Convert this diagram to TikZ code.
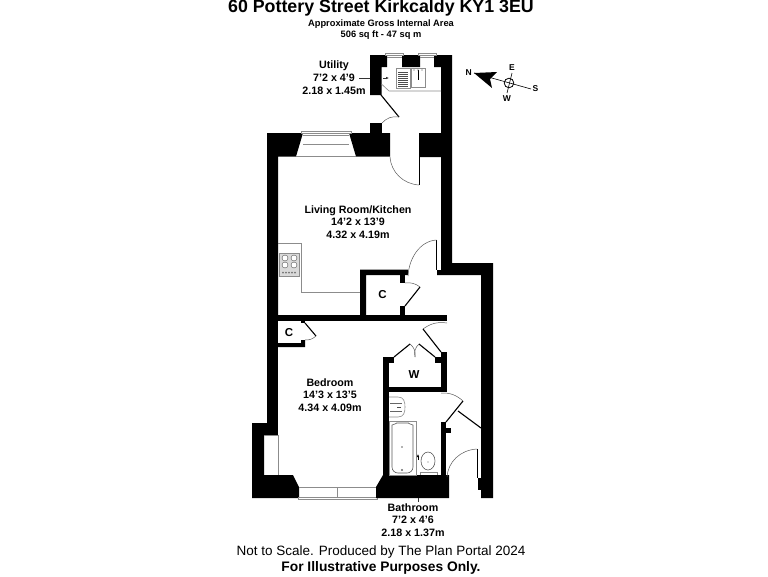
\documentclass[tikz,border=0pt]{standalone}
\usepackage{fontspec}
\setmainfont{Liberation Sans}
\usetikzlibrary{arrows.meta, positioning}
\tikzset{
	wall/.style = {fill=black, draw=none},
	leaf/.style = {draw=black, line width=1.1pt},
	swing/.style = {draw=black!65, line width=0.5pt},
	fitting/.style = {draw=black!45, line width=0.6pt},
	sill/.style = {draw=black!45, fill=white, line width=0.6pt},
	room/.style = {align=center, font=\bfseries\fontsize{10.7}{12.7}\selectfont, inner sep=0pt},
	closet/.style = {font=\bfseries\fontsize{11.5}{13}\selectfont, inner sep=0pt},
	point/.style = {font=\bfseries\fontsize{8.5}{10}\selectfont, inner sep=0pt},
}
\begin{document}
\begin{tikzpicture}[x=1pt, y=-1pt]
	\useasboundingbox (0,0) rectangle (768,576);

	% headings
	\node[inner sep=0pt, font=\bfseries\fontsize{17.8}{19}\selectfont] (title) at (381,8) {60 Pottery Street Kirkcaldy KY1 3EU};
	\node[inner sep=0pt, align=center, font=\bfseries\fontsize{9.3}{11}\selectfont] (area) at (381,29.5) {Approximate Gross Internal Area\\506 sq ft - 47 sq m};

	% utility
	\fill[wall] (370,55) -- (452,55) -- (452,263) -- (441,263) -- (441,157) -- (419,157) -- (419,133) -- (441,133) -- (441,67) -- (434,67) -- (434,55) -- (420,55) -- (420,67) -- (402,67) -- (402,55) -- (387,55) -- (387,67) -- (381.5,67) -- (381.5,95) -- (370,95) -- cycle;
	\foreach \wl/\wr in {385/403, 418/436} {
		\draw[sill] (\wl,53) rectangle (\wr,55);
	}
	\draw[fitting] (387,57) -- (402,57) (420,57) -- (434,57);
	\draw[fitting] (381.5,84) -- (389,91) -- (441,91);
	\draw[fitting, fill=white] (396,68) rectangle (410,88);
	\draw[fitting, fill=white] (411,68) rectangle (425,87);
	\foreach \ys in {72,74,...,86} {
		\draw[draw=black!70, line width=0.8pt] (398,\ys) -- (408,\ys);
	}
	\draw[black, line width=0.5pt] (418,70) -- (418,80);
	\foreach \xs in {414,418,422} {
		\fill[black!70] (\xs,70) circle (0.7);
	}
	\coordinate (utilityend) at (370,78);
	\draw[black!80, line width=0.5pt] (359,78) -- (utilityend);
	\draw[black!80, line width=0.5pt, -{Latex[length=3pt,width=2.5pt]}] (383,78) -- (389,78);

	\coordinate (utilA) at (381,95);
	\coordinate (utilB) at (399,117);
	\draw[leaf] (utilA) -- (utilB);
	\draw[swing] (utilB) to[bend right=28] (382,123);
	\fill[wall] (370,123) rectangle (381.5,133);

	% living room
	\fill[wall] (267,133) -- (303,133) -- (296,156.5) -- (278,156.5) -- (278,315) -- (267,315) -- cycle;
	\fill[wall] (349,133) -- (390,133) -- (390,156.5) -- (356,156.5) -- cycle;
	\draw[sill] (301,131) rectangle (351,133);
	\draw[fitting] (303,135) -- (349,135) (303,144) -- (349,144) (296,156.5) -- (356,156.5);
	\draw[swing] (390,157) .. controls (391,172) and (403,184) .. (419,185);
	\draw[leaf, line width=0.8pt] (419,157) -- (419,185);

	% kitchen units
	\draw[fitting] (278,243) -- (301,243) -- (301,292) -- (360,292);
	\draw[fitting, fill=black!15] (279.5,253) rectangle (299,276);
	\foreach \hx in {285,294} {
		\foreach \hy in {258,265} {
			\draw[black!70, line width=0.4pt, fill=white] (\hx,\hy) circle (3);
		}
	}
	\foreach \kx in {283,286,...,295} {
		\fill[black!55] (\kx,272.5) circle (1);
	}

	% closet of the living room
	\fill[wall] (360,269.5) -- (408,269.5) -- (408,275) -- (366,275) -- (366,315) -- (360,315) -- cycle;
	\fill[wall] (400,275) rectangle (405,283);
	\fill[wall] (400,306) rectangle (405,315);
	\draw[leaf] (405,306) -- (420,287);
	\draw[swing] (405,283) to[bend left=22] (420,287);
	\fill[wall] (437,270) -- (441,270) -- (441,263) -- (493,263) -- (493,498) -- (481,498) -- (481,275) -- (437,275) -- cycle;
	\draw[leaf, line width=0.8pt] (436.5,240) -- (436.5,270);
	\draw[swing] (436.5,240) .. controls (420,241) and (409,258) .. (408,276);

	% cross wall, small closet
	\fill[wall] (267,314.5) rectangle (447,321);
	\fill[wall] (301,321) rectangle (305,323);
	\fill[wall] (278,343) -- (301,343) -- (301,340) -- (305,340) -- (305,347) -- (278,347) -- cycle;
	\draw[leaf] (305,323) -- (316,336);
	\draw[swing] (316,336) to[bend left=22] (305,340);

	% bedroom door, wardrobe
	\draw[swing] (447,323) to[bend right=22] (423,329);
	\draw[leaf] (423,329) -- (441,352);
	\fill[wall] (441,352) rectangle (447,392);
	\fill[wall] (435,357) rectangle (441,363);
	\fill[wall] (383,357) rectangle (394,363);
	\fill[wall] (383,357) rectangle (389,498);
	\fill[wall] (383,387) rectangle (447,392);
	\draw[leaf] (394,357) -- (410,344);
	\draw[leaf] (435,357) -- (419,344);
	\draw[swing] (410,344) to[bend left=30] (415,357);
	\draw[swing] (419,344) to[bend right=30] (415,357);

	% bedroom, bay
	\fill[wall] (267,321) rectangle (278,435);
	\fill[wall] (252,423) -- (267,423) -- (267,435) -- (264,435) -- (264,475) -- (293,475) -- (299,487) -- (299,498) -- (252,498) -- cycle;
	\draw[fitting] (278,435) -- (278,475) (264,435) -- (278,435);
	\draw[sill] (298,497) rectangle (377,499);
	\draw[fitting] (299,487) -- (376,487) (337.5,487) -- (337.5,497);
	\fill[wall] (383,475) -- (449,475) -- (449,498) -- (376,498) -- (376,487) -- cycle;

	% bathroom
	\fill[wall] (441,422) rectangle (446,475);
	\fill[wall] (446,428) rectangle (451,433);
	\draw[swing] (441,393) to[bend left=22] (463,401);
	\draw[leaf] (463,401) -- (446,422);
	\draw[leaf] (458,411) -- (481,428);
	\draw[swing] (447,477) .. controls (448,462) and (460,450) .. (477,449);
	\draw[leaf, line width=0.8pt] (477.5,449) -- (477.5,478);
	\fill[wall] (478,478) rectangle (481,490);

	% bathroom fittings
	\draw[fitting] (389,397) -- (398,397) .. controls (404,397) and (405,402) .. (405,407) .. controls (405,412) and (404,417) .. (398,417) -- (389,417);
	\draw[draw=black!60, line width=0.4pt] (390,403) -- (402,403) (390,411) -- (402,411);
	\fill[black!70] (397,407) rectangle (401,408);
	\draw[fitting, line width=0.4pt] (389,421) rectangle (416,475);
	\draw[draw=black!65, line width=0.6pt, rounded corners=6pt] (392,431) .. controls (392,425) and (398,423) .. (402.5,423) .. controls (407,423) and (413,425) .. (413,431) -- (413,473) -- (392,473) -- cycle;
	\fill[black!60] (402,447) circle (0.8);
	\fill[black!60] (402,470) circle (1.2);
	\draw[draw=black!65, line width=0.6pt] (428,461) ellipse (7 and 9);
	\draw[fitting] (420,475) -- (420,472.5) -- (437,472.5) -- (437,475);
	\fill[black!60] (428,462) circle (0.6);
	\draw[black, line width=0.5pt, -{Latex[length=3pt,width=2.5pt]}] (418,460) -- (418,454);

	% compass
	\coordinate (north) at (474,73);
	\coordinate (south) at (531,89);
	\coordinate (east) at (512,73);
	\coordinate (west) at (507,93);
	\draw[black, line width=0.6pt] (north) -- (south);
	\draw[black, line width=0.6pt] (east) -- (west);
	\fill[black] (north) -- (497,72) -- (490,79) -- (492,88) -- cycle;
	\draw[black, line width=0.8pt] (509,83) circle (4.8);
	\node[point, left = 2pt of north] (Nlab) {N};
	\node[point, above = 2pt of east] (Elab) {E};
	\node[point, right = 1.5pt of south] (Slab) {S};
	\node[point, below = 2pt of west] (Wlab) {W};

	% room labels
	\node[room] (utility) at (334,77.5) {Utility\\7'2 x 4'9\\2.18 x 1.45m};
	\node[room] (living) at (358,222) {Living Room/Kitchen\\14'2 x 13'9\\4.32 x 4.19m};
	\node[room] (bedroom) at (330,395) {Bedroom\\14'3 x 13'5\\4.34 x 4.09m};
	\node[room] (bathroom) at (413,520) {Bathroom\\7'2 x 4'6\\2.18 x 1.37m};
	\node[closet] (C1) at (382.5,295) {C};
	\node[closet] (C2) at (289,332.5) {C};
	\node[closet] (W1) at (414,374.5) {W};
	\coordinate (bathtick) at (418,498);
	\draw[black!80, line width=0.5pt] (bathtick) -- (418,502);

	% footer
	\node[inner sep=0pt, font=\fontsize{13.5}{15}\selectfont] (scale) at (381,552) {Not to Scale. Produced by The Plan Portal 2024};
	\node[inner sep=0pt, font=\bfseries\fontsize{13.8}{15}\selectfont] (purpose) at (381,568) {For Illustrative Purposes Only.};
\end{tikzpicture}
\end{document}
